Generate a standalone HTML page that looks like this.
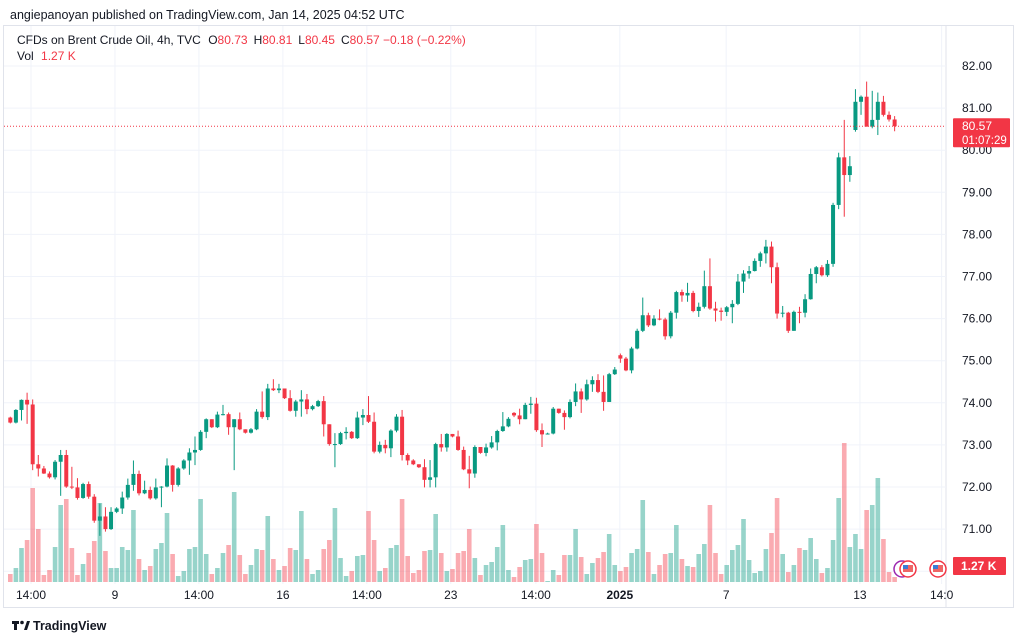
<!DOCTYPE html>
<html><head><meta charset="utf-8">
<style>
body{margin:0;background:#fff;font-family:"Liberation Sans",sans-serif;}
#wrap{position:relative;width:1024px;height:641px;overflow:hidden;background:#fff;}
svg text{font-family:"Liberation Sans",sans-serif;}
</style></head>
<body>
<div id="wrap">
<svg id="chart" width="1024" height="641"></svg>
</div>
<script>
const closes=[73.53,73.83,74.07,73.96,72.54,72.44,72.32,72.23,72.60,72.76,72.01,71.99,71.74,72.07,71.77,71.20,71.30,71.00,71.41,71.49,
71.75,72.05,72.31,71.85,71.93,71.73,71.99,72.01,72.51,72.05,72.44,72.63,72.82,72.88,73.31,73.61,73.42,73.72,73.73,73.42,
73.61,73.37,73.29,73.37,73.79,73.66,74.34,74.30,74.34,74.11,73.81,74.03,74.08,73.85,73.92,74.04,73.49,73.02,73.02,73.28,
73.31,73.16,73.65,73.71,73.55,72.84,73.00,72.92,73.34,73.67,72.76,72.63,72.54,72.47,72.17,72.23,73.02,72.94,73.26,73.20,
72.88,72.42,72.32,72.95,72.81,72.94,73.06,73.33,73.44,73.62,73.70,73.61,73.95,73.98,73.35,73.25,73.27,73.86,73.76,73.66,
74.02,74.27,74.08,74.44,74.54,74.26,74.02,74.68,74.79,75.05,74.77,75.29,75.71,76.08,75.84,76.00,75.98,75.58,76.14,76.63,
76.55,76.61,76.18,76.28,76.77,76.24,76.19,76.16,76.27,76.35,76.88,77.07,77.13,77.37,77.55,77.71,77.22,76.12,76.14,75.71,
76.16,76.14,76.46,77.06,77.22,77.03,77.30,78.70,79.83,79.41,79.62,81.15,81.27,80.56,80.72,81.15,80.84,80.73,80.57];
const highs=[73.67,73.85,74.08,74.24,74.08,72.76,72.50,72.37,72.64,72.88,72.88,72.48,72.21,72.10,72.13,71.83,71.61,71.52,71.52,71.52,
71.89,72.20,72.63,72.39,72.15,72.01,72.20,72.02,72.68,72.52,72.47,72.66,72.92,73.20,73.35,73.63,73.61,73.79,73.95,73.77,
73.61,73.77,73.37,73.40,73.85,74.27,74.45,74.56,74.45,74.34,74.30,74.07,74.30,74.21,73.95,74.07,74.16,73.49,73.28,73.31,
73.42,73.33,73.79,73.85,74.16,73.77,73.08,73.12,73.37,73.73,73.83,72.80,72.66,72.54,72.66,72.64,73.05,73.26,73.28,73.26,
73.34,72.96,72.74,72.99,72.94,73.03,73.21,73.36,73.78,73.66,73.78,73.86,74.00,74.14,74.12,73.51,73.29,73.90,73.86,73.82,
74.08,74.46,74.34,74.55,74.63,74.68,74.65,74.71,74.85,75.17,75.09,75.33,75.76,76.50,76.14,76.08,76.22,76.02,76.18,76.66,
76.69,76.85,76.66,76.38,77.14,77.43,76.40,76.26,76.30,76.44,77.06,77.15,77.25,77.43,77.59,77.87,77.83,77.33,76.30,76.16,
76.19,76.28,76.58,77.19,77.25,77.27,77.39,78.75,79.94,80.72,79.86,81.45,81.30,81.63,81.41,81.37,81.29,80.92,80.81];
const lows=[73.51,73.51,73.58,73.50,72.40,72.25,72.31,72.20,72.18,71.79,71.98,71.95,71.70,71.72,71.72,71.15,70.84,70.94,70.98,71.38,
71.36,71.70,71.91,71.80,71.83,71.70,71.70,71.52,71.99,71.89,72.01,72.41,72.29,72.52,72.86,73.16,73.40,73.40,73.70,73.24,
72.40,73.35,73.27,73.27,73.35,73.62,73.59,74.28,74.23,74.09,73.79,73.67,73.67,73.73,73.82,73.90,73.20,72.98,72.47,73.00,
73.13,73.14,73.14,73.47,73.52,72.80,72.80,72.80,72.71,73.30,72.63,72.52,72.52,72.45,71.99,71.99,71.99,72.84,72.84,73.18,
72.86,72.40,71.97,72.22,72.79,72.73,72.91,72.87,73.31,73.42,73.66,73.49,73.61,73.74,73.31,72.95,73.25,73.25,73.74,73.36,
73.63,73.92,73.76,74.05,74.26,74.23,73.81,74.02,74.66,74.95,74.75,74.70,75.27,75.68,75.80,75.82,75.96,75.50,75.53,76.00,
76.40,76.40,76.15,76.04,76.24,76.21,75.93,75.95,76.06,75.89,76.32,76.61,76.95,77.12,77.23,77.31,76.84,76.00,76.03,75.66,
75.71,75.89,76.03,76.45,76.84,77.00,76.99,77.23,78.60,78.42,79.25,80.44,80.84,80.56,80.52,80.36,80.80,80.68,80.45];
const openGaps={0:73.65,90:73.76,109:75.13,151:80.48};
const volumes=[8,14,34,42,94,53,7,12,35,77,83,34,7,18,29,41,79,31,14,14,35,32,72,23,12,16,33,39,69,28,6,11,33,35,83,28,8,14,29,37,
90,27,8,17,33,32,66,23,12,16,34,32,71,23,8,12,33,42,74,24,6,11,26,27,71,42,11,14,34,37,83,26,9,12,31,32,68,29,11,13,
29,31,53,24,7,17,20,35,57,12,5,15,22,23,58,29,1,12,7,27,27,53,25,8,19,24,30,48,17,11,15,29,33,82,30,8,17,28,29,57,
23,16,15,28,38,77,29,8,17,32,37,63,22,9,11,33,49,84,28,10,17,34,32,44,23,9,14,42,84,139,35,48,33,72,77,104,43,10,5];
const priceTicks=[82,81,80,79,78,77,76,75,74,73,72,71,70];
const timeLabels=["14:00","9","14:00","16","14:00","23","14:00","2025","7","13","14:0"];
const timeLabelIdx=[3.7,18.7,33.7,48.7,63.7,78.7,93.9,108.9,127.9,151.8,166.4];

const NS="http://www.w3.org/2000/svg";
const svg=document.getElementById('chart');
const X0=10.3, DX=5.597;
function xScale(i){return X0+i*DX;}
function yScale(p){return 66+(82-p)*42.1;}
const VBASE=582;
function vScale(v){return VBASE-v;}
function mk(tag,attrs,parent){const e=document.createElementNS(NS,tag);for(const k in attrs)e.setAttribute(k,attrs[k]);(parent||svg).appendChild(e);return e;}
const GREEN="#089981",RED="#F23645";

// header
let t=mk('text',{x:10,y:19,'font-size':12.5,fill:'#131722'});


t.textContent="angiepanoyan published on TradingView.com, Jan 14, 2025 04:52 UTC";

// frame
let fr=mk('rect',{x:3.5,y:25.5,width:1010,height:582,fill:'none',stroke:'#e0e3eb','stroke-width':1});


let sep=mk('line',{x1:946,y1:26,x2:946,y2:607,stroke:'#e0e3eb'});



// grid
const grid=mk('g',{});


priceTicks.forEach(p=>{const y=yScale(p);if(y<585)mk('line',{x1:4,x2:946,y1:y,y2:y,stroke:'#f0f3fa'},grid);});
timeLabelIdx.forEach(i=>{const x=xScale(i);if(x<946)mk('line',{x1:x,x2:x,y1:26,y2:584,stroke:'#f0f3fa'},grid);});

// volume
const vg=mk('g',{});


function opn(i){return (i in openGaps)?openGaps[i]:closes[i-1];}
volumes.forEach((v,i)=>{
  const up=closes[i]>=opn(i);
  const r=mk('rect',{x:xScale(i)-2.3,y:vScale(v),width:4.6,height:v,fill:up?'rgba(8,153,129,0.42)':'rgba(242,54,69,0.42)'},vg);
  
  
});

// candles
const cg=mk('g',{});


closes.forEach((c,i)=>{
  const o=opn(i),up=c>=o,col=up?GREEN:RED,x=xScale(i);
  const g=mk('g',{},cg);
  
  
  mk('line',{x1:x,x2:x,y1:yScale(highs[i]),y2:yScale(lows[i]),stroke:col,'stroke-width':1},g);
  const yt=yScale(Math.max(o,c)),yb=yScale(Math.min(o,c));
  mk('rect',{x:x-2,y:yt,width:4,height:Math.max(1,yb-yt),fill:col},g);
});

// last price line
const last=closes[closes.length-1];
let pl=mk('line',{x1:4,x2:946,y1:yScale(last),y2:yScale(last),stroke:RED,'stroke-width':1,'stroke-dasharray':'1,2'});



// price axis labels
priceTicks.forEach(p=>{
  const y=yScale(p);
  if(y>575)return;
  const tx=mk('text',{x:962,y:y+4,'font-size':12,fill:'#131722'});
  
  
  tx.textContent=p.toFixed(2);
});
// price tag
const tagY=yScale(last);
let tg=mk('g',{});


mk('rect',{x:953,y:tagY-8,width:57,height:29,fill:RED,rx:1},tg);
let t1=mk('text',{x:962,y:tagY+4,'font-size':12,fill:'#fff'},tg);t1.textContent=last.toFixed(2);
let t2=mk('text',{x:962,y:tagY+18,'font-size':11.5,fill:'#fff'},tg);t2.textContent="01:07:29";

// volume tag
let vt=mk('g',{});


mk('rect',{x:953,y:557,width:53,height:18,fill:RED,rx:1},vt);
let vtt=mk('text',{x:961,y:570,'font-size':12,fill:'#fff','font-weight':'bold'},vt);vtt.textContent="1.27 K";

// event icons
[[902,569,'#9c27b0'],[908,569,RED],[938,569,RED]].forEach((e,k)=>{
  const c=mk('circle',{cx:e[0],cy:e[1],r:8,fill:'#fff',stroke:e[2],'stroke-width':1.5});
  
  
  if(k>0){mk('rect',{x:e[0]-5,y:e[1]-4,width:10,height:7,fill:'#e66'});mk('rect',{x:e[0]-5,y:e[1]-4,width:5,height:4,fill:'#3a7bd5'});}
});

// time labels
timeLabels.forEach((l,k)=>{
  const tx=mk('text',{x:xScale(timeLabelIdx[k]),y:599,'font-size':12,fill:'#131722','text-anchor':'middle','font-weight':l==='2025'?'bold':'normal'});
  
  
  tx.textContent=l;
});

// legend
let lg=mk('text',{x:17,y:44,'font-size':12,fill:'#131722'});


lg.innerHTML='CFDs on Brent Crude Oil, 4h, TVC <tspan dx="4">O</tspan><tspan fill="#F23645">80.73</tspan><tspan dx="6">H</tspan><tspan fill="#F23645">80.81</tspan><tspan dx="6">L</tspan><tspan fill="#F23645">80.45</tspan><tspan dx="6">C</tspan><tspan fill="#F23645">80.57 −0.18 (−0.22%)</tspan>';
let vl=mk('text',{x:17,y:60,'font-size':12,fill:'#131722'});


vl.innerHTML='Vol <tspan dx="4" fill="#F23645">1.27 K</tspan>';

// footer logo
let lgo=mk('g',{});


mk('rect',{x:12,y:621,width:7,height:3,fill:'#131722'},lgo);
mk('rect',{x:14,y:621,width:3,height:9,fill:'#131722'},lgo);
mk('circle',{cx:22,cy:622.5,r:1.8,fill:'#131722'},lgo);
mk('path',{d:'M24 630 L27 621 L30 621 L27 630 Z',fill:'#131722'},lgo);
let lt=mk('text',{x:33,y:630,'font-size':12.5,fill:'#131722','font-weight':'bold'},lgo);lt.textContent="TradingView";
</script>
</body></html>
